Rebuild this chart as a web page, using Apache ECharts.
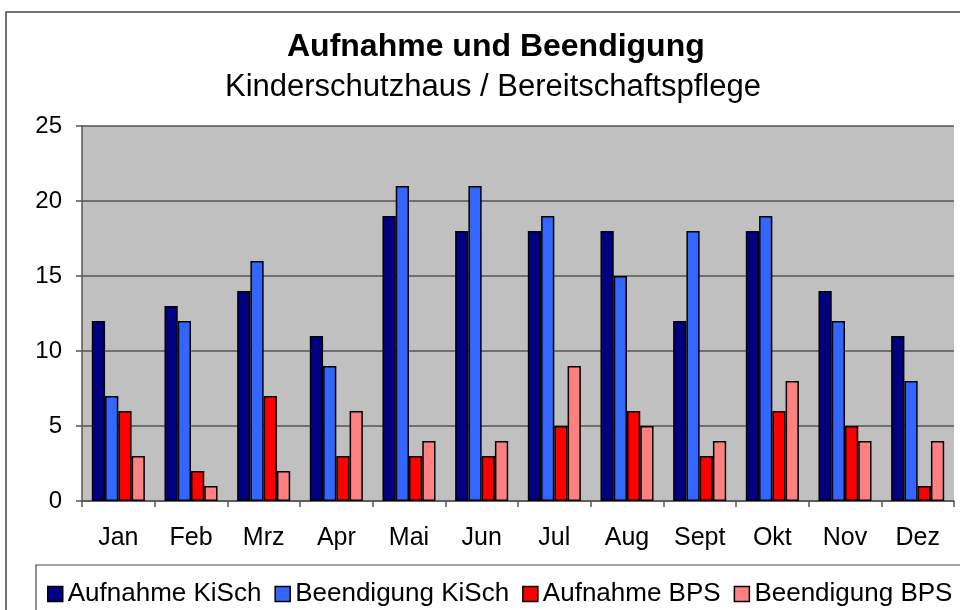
<!DOCTYPE html>
<html><head><meta charset="utf-8">
<script src="https://cdn.jsdelivr.net/npm/echarts@6/dist/echarts.min.js"></script>
<style>html,body{margin:0;padding:0;background:#fff}#c{width:960px;height:610px}</style>
</head><body><div id="c"></div>
<script>
const categories = ['Jan','Feb','Mrz','Apr','Mai','Jun','Jul','Aug','Sept','Okt','Nov','Dez'];
const aufnahmeKiSch = [12,13,14,11,19,18,18,18,12,18,14,11];
const beendigungKiSch = [7,12,16,9,21,21,19,15,18,19,12,8];
const aufnahmeBPS = [6,2,7,3,3,3,5,6,3,6,5,1];
const beendigungBPS = [3,1,2,6,4,4,9,5,4,8,4,4];
const seriesNames = ['Aufnahme KiSch','Beendigung KiSch','Aufnahme BPS','Beendigung BPS'];
const colors = ['#000080','#3366FF','#FF0000','#FF8080'];
const F = 'Liberation Sans, Arial, sans-serif';
const chart = echarts.init(document.getElementById('c'));
const data = [aufnahmeKiSch, beendigungKiSch, aufnahmeBPS, beendigungBPS];
chart.setOption({
  animation:false,
  graphic:[
    {type:'rect', shape:{x:6,y:12,width:1000,height:700}, style:{fill:'none',stroke:'#444',lineWidth:1.5}, z:-10},
    {type:'rect', shape:{x:36,y:565,width:1000,height:100}, style:{fill:'#fff',stroke:'#444',lineWidth:1.2}, z:-5}
  ],
  title:[
    {text:'Aufnahme und Beendigung', left:282, top:26, textStyle:{fontFamily:F,fontWeight:'bold',fontSize:32,color:'#000'}},
    {text:'Kinderschutzhaus / Bereitschaftspflege', left:220, top:67, textStyle:{fontFamily:F,fontWeight:'normal',fontSize:31,color:'#000'}}
  ],
  legend:{
    data:seriesNames, left:42, top:576, itemWidth:15, itemHeight:15, itemGap:13,
    icon:'rect',
    itemStyle:{borderColor:'#000',borderWidth:1.5},
    textStyle:{fontFamily:F,fontSize:26,color:'#000'}
  },
  grid:{left:82,right:6,top:126,bottom:109,show:true,backgroundColor:'#C0C0C0',borderWidth:0},
  xAxis:{
    type:'category', data:categories,
    axisLine:{lineStyle:{color:'#555',width:1.5}},
    axisTick:{show:true,length:6,inside:false,lineStyle:{color:'#555',width:1.5}},
    axisLabel:{fontFamily:F,fontSize:25,color:'#000',margin:25}
  },
  yAxis:{
    type:'value', min:0, max:25, interval:5,
    axisLine:{show:true,lineStyle:{color:'#555',width:1.5}},
    axisTick:{show:true,length:6,lineStyle:{color:'#555',width:1.5}},
    axisLabel:{fontFamily:F,fontSize:24,color:'#000',margin:20},
    splitLine:{lineStyle:{color:'#555',width:1.5}}
  },
  series: data.map((d,i)=>({
    name:seriesNames[i], type:'bar', data:d,
    barGap:'0%', barCategoryGap:'27%',
    itemStyle:{color:colors[i],borderColor:'#000',borderWidth:1.5}
  }))
});
</script></body></html>
